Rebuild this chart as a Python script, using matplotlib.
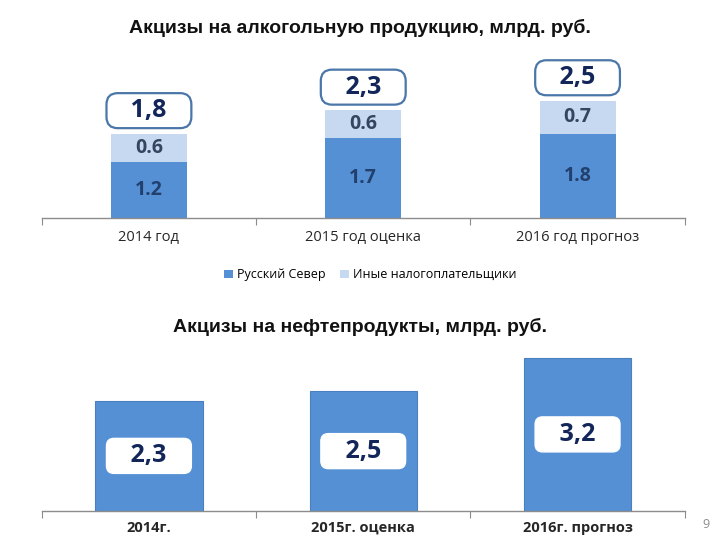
import matplotlib
matplotlib.use("Agg")
import matplotlib.pyplot as plt
import numpy as np

# Данные: акцизы на алкогольную продукцию, млрд. руб.
alc_categories = ['2014 год', '2015 год оценка', '2016 год прогноз']
russky_sever = [1.2, 1.7, 1.8]
other_payers = [0.6, 0.6, 0.7]
alc_series_names = ['Русский Север', 'Иные налогоплательщики']

# Данные: акцизы на нефтепродукты, млрд. руб.
oil_categories = ['2014г.', '2015г. оценка', '2016г. прогноз']
oil_values = [2.3, 2.5, 3.2]

BLUE = '#5590D4'
LIGHT = '#C6D9F1'
NAVY = '#13265A'
BOX_EDGE = '#4A76A8'
FONT = ['Open Sans', 'DejaVu Sans']
TITLE_FONT = ['Liberation Sans', 'DejaVu Sans']


def fmt_comma(v):
    return f"{v:.1f}".replace('.', ',')


def box_style():
    return dict(boxstyle='round,pad=0.2,rounding_size=0.45', fc='white',
                ec=BOX_EDGE, lw=1.6)


def style_axis(ax, labels, bold, pad):
    n = len(labels)
    ax.set_xlim(-0.5, n - 0.5)
    ax.set_ylim(0, 3.47)
    for side in ['top', 'right', 'left']:
        ax.spines[side].set_visible(False)
    ax.spines['bottom'].set_color('#8C8C8C')
    ax.spines['bottom'].set_linewidth(1.0)
    ax.set_yticks([])
    # границы категорий - мелкие засечки
    ax.set_xticks(np.arange(n + 1) - 0.5)
    ax.set_xticklabels([])
    ax.tick_params(axis='x', which='major', length=5, color='#8C8C8C', direction='out')
    ax.set_xticks(np.arange(n), minor=True)
    ax.set_xticklabels(labels, minor=True, family=FONT, fontsize=10.5,
                       color='#262626', fontweight='bold' if bold else 'normal',
                       va='baseline')
    ax.tick_params(axis='x', which='minor', length=0, pad=pad)


fig = plt.figure(figsize=(7.2, 5.4), dpi=100)

# ---- Верхний график ----
fig.text(0.5, 0.948, 'Акцизы на алкогольную продукцию, млрд. руб.',
         ha='center', va='center', family=TITLE_FONT, fontsize=14,
         fontweight='bold', color='#111111')

ax1 = fig.add_axes([0.058, 0.596, 0.893, 0.302])
x = np.arange(len(alc_categories))
b1 = ax1.bar(x, russky_sever, width=0.355, color=BLUE, label=alc_series_names[0])
b2 = ax1.bar(x, other_payers, width=0.355, bottom=russky_sever, color=LIGHT,
             label=alc_series_names[1])
style_axis(ax1, alc_categories, bold=False, pad=16.5)

for i in range(len(x)):
    ax1.text(x[i], russky_sever[i] / 2, f"{russky_sever[i]:.1f}", ha='center',
             va='center', family=FONT, fontsize=14, fontweight='bold', color='#22406E')
    ax1.text(x[i], russky_sever[i] + other_payers[i] / 2, f"{other_payers[i]:.1f}",
             ha='center', va='center', family=FONT, fontsize=14,
             fontweight='bold', color='#354560')
    total = russky_sever[i] + other_payers[i]
    ax1.annotate('   ' + fmt_comma(total) + '   ', xy=(x[i], total),
                 xytext=(0, 16.5), textcoords='offset points', ha='center',
                 va='center', family=FONT, fontsize=18, fontweight='bold',
                 color=NAVY, bbox=box_style())

fig.legend(handles=[b1, b2], loc='center', bbox_to_anchor=(0.514, 0.491),
           ncol=2, frameon=False, handlelength=0.7, handleheight=0.7,
           handletextpad=0.3, columnspacing=1.2,
           prop={'family': FONT, 'size': 9})

# ---- Нижний график ----
fig.text(0.5, 0.394, 'Акцизы на нефтепродукты, млрд. руб.',
         ha='center', va='center', family=TITLE_FONT, fontsize=14,
         fontweight='bold', color='#111111')

ax2 = fig.add_axes([0.058, 0.054, 0.893, 0.307])
x2 = np.arange(len(oil_categories))
ax2.bar(x2, oil_values, width=0.5, color=BLUE, edgecolor='#4A7FC0', linewidth=0.8)
style_axis(ax2, oil_categories, bold=True, pad=15)

for i in range(len(x2)):
    ax2.text(x2[i], oil_values[i] / 2, '   ' + fmt_comma(oil_values[i]) + '   ',
             ha='center', va='center', family=FONT, fontsize=18,
             fontweight='bold', color=NAVY,
             bbox=dict(boxstyle='round,pad=0.2,rounding_size=0.3', fc='white',
                       ec='white', lw=1))

fig.text(0.98, 0.028, '9', ha='center', va='center', family=FONT,
         fontsize=9, color='#8C8C8C')

fig.savefig('out.png', dpi=100)
